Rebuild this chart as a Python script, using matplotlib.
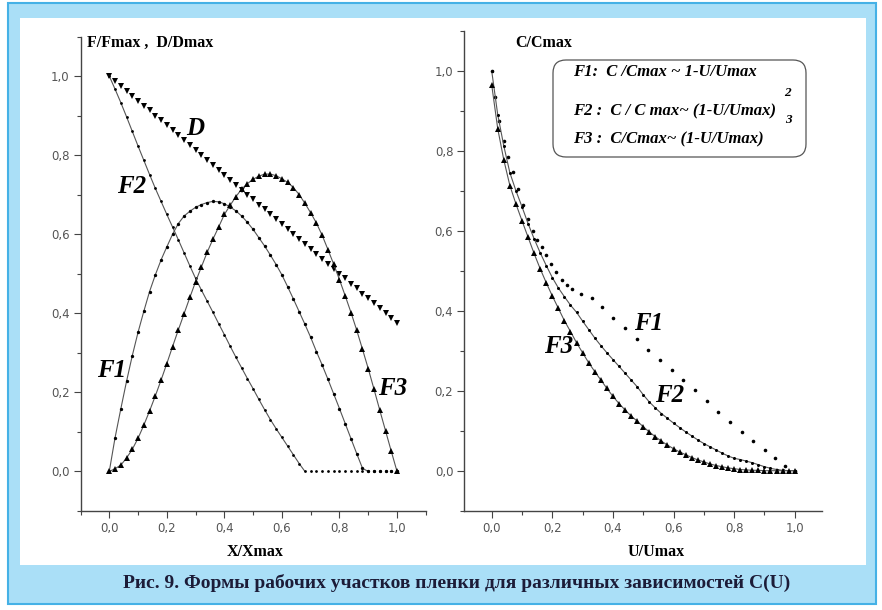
import numpy as np
import matplotlib.pyplot as plt
from matplotlib.patches import Rectangle, FancyBboxPatch
from matplotlib.ticker import FixedLocator, MultipleLocator, FuncFormatter

# ---- data ----
x_left = [0.00, 0.02, 0.04, 0.06, 0.08, 0.10, 0.12, 0.14, 0.16, 0.18,
          0.20, 0.22, 0.24, 0.26, 0.28, 0.30, 0.32, 0.34, 0.36, 0.38,
          0.40, 0.42, 0.44, 0.46, 0.48, 0.50, 0.52, 0.54, 0.56, 0.58,
          0.60, 0.62, 0.64, 0.66, 0.68, 0.70, 0.72, 0.74, 0.76, 0.78,
          0.80, 0.82, 0.84, 0.86, 0.88, 0.90, 0.92, 0.94, 0.96, 0.98, 1.00]

d_left = [1.000, 0.988, 0.975, 0.963, 0.950, 0.938, 0.925, 0.913, 0.900, 0.888,
          0.875, 0.863, 0.850, 0.838, 0.825, 0.813, 0.800, 0.788, 0.775, 0.763,
          0.750, 0.738, 0.725, 0.713, 0.700, 0.688, 0.675, 0.663, 0.650, 0.638,
          0.625, 0.613, 0.600, 0.588, 0.575, 0.563, 0.550, 0.538, 0.525, 0.513,
          0.500, 0.488, 0.475, 0.463, 0.450, 0.438, 0.425, 0.413, 0.400, 0.388, 0.375]

f1_left = [0.000, 0.085, 0.158, 0.228, 0.293, 0.352, 0.405, 0.455, 0.497, 0.535,
           0.568, 0.600, 0.627, 0.646, 0.658, 0.668, 0.675, 0.680, 0.683, 0.682,
           0.677, 0.669, 0.659, 0.646, 0.630, 0.612, 0.591, 0.570, 0.547, 0.523,
           0.497, 0.467, 0.436, 0.404, 0.372, 0.339, 0.303, 0.269, 0.233, 0.196,
           0.159, 0.121, 0.083, 0.045, 0.008, 0.000, 0.000, 0.000, 0.000, 0.000, 0.000]

f2_left = [1.000, 0.967, 0.933, 0.897, 0.860, 0.823, 0.787, 0.751, 0.716, 0.683,
           0.650, 0.618, 0.586, 0.553, 0.520, 0.488, 0.459, 0.431, 0.403, 0.374,
           0.346, 0.317, 0.289, 0.262, 0.235, 0.209, 0.182, 0.156, 0.131, 0.108,
           0.086, 0.064, 0.042, 0.020, 0.000, 0.000, 0.000, 0.000, 0.000, 0.000,
           0.000, 0.000, 0.000, 0.000, 0.000, 0.000, 0.000, 0.000, 0.000, 0.000, 0.000]

f3_left = [0.000, 0.007, 0.016, 0.034, 0.056, 0.084, 0.117, 0.153, 0.191, 0.231,
           0.273, 0.316, 0.358, 0.399, 0.440, 0.480, 0.517, 0.554, 0.587, 0.618,
           0.650, 0.673, 0.695, 0.714, 0.728, 0.739, 0.747, 0.752, 0.752, 0.748,
           0.740, 0.731, 0.718, 0.700, 0.678, 0.654, 0.628, 0.597, 0.561, 0.524,
           0.485, 0.444, 0.402, 0.357, 0.309, 0.260, 0.208, 0.155, 0.103, 0.051, 0.000]

x_right = x_left

f1r_x = [0.0, 0.012, 0.025, 0.04, 0.055, 0.07, 0.087, 0.104, 0.12, 0.135,
         0.15, 0.165, 0.18, 0.195, 0.212, 0.231, 0.248, 0.264, 0.295, 0.33,
         0.365, 0.401, 0.44, 0.478, 0.517, 0.555, 0.596, 0.632, 0.671, 0.71,
         0.748, 0.786, 0.825, 0.863, 0.902, 0.935, 0.968, 1.0]
f1r_y = [1.0, 0.935, 0.875, 0.825, 0.785, 0.748, 0.705, 0.665, 0.63, 0.6,
         0.578, 0.558, 0.538, 0.518, 0.497, 0.477, 0.465, 0.455, 0.443, 0.432,
         0.41, 0.381, 0.356, 0.3285, 0.302, 0.277, 0.252, 0.227, 0.202, 0.174,
         0.148, 0.123, 0.098, 0.074, 0.052, 0.031, 0.012, 0.0]

f2_right = [1.000, 0.890, 0.812, 0.745, 0.700, 0.660, 0.618, 0.580, 0.545, 0.513,
            0.483, 0.457, 0.435, 0.414, 0.396, 0.374, 0.353, 0.332, 0.313, 0.295,
            0.278, 0.261, 0.244, 0.227, 0.210, 0.190, 0.172, 0.157, 0.143, 0.131,
            0.119, 0.108, 0.097, 0.087, 0.077, 0.068, 0.060, 0.052, 0.044, 0.037,
            0.031, 0.028, 0.024, 0.020, 0.015, 0.010, 0.006, 0.003, 0.001, 0.000, 0.000]

f3_right = [0.965, 0.855, 0.777, 0.713, 0.667, 0.625, 0.584, 0.543, 0.505, 0.470,
            0.437, 0.406, 0.375, 0.348, 0.320, 0.295, 0.270, 0.248, 0.227, 0.206,
            0.186, 0.168, 0.152, 0.137, 0.124, 0.110, 0.097, 0.085, 0.074, 0.064,
            0.055, 0.047, 0.040, 0.033, 0.027, 0.022, 0.017, 0.013, 0.010, 0.007,
            0.005, 0.003, 0.002, 0.001, 0.001, 0.000, 0.000, 0.000, 0.000, 0.000, 0.000]

major_ticks = [0.0, 0.2, 0.4, 0.6, 0.8, 1.0]

W, H = 882, 610
SERIF = 'Liberation Serif'
LINE_C = '#555555'


def px(x, y):
    # image pixel (top-left origin) -> inches for fig.dpi_scale_trans
    return x / 100.0, (H - y) / 100.0


def style_axes(ax, xlim, ylim):
    ax.set_xlim(*xlim)
    ax.set_ylim(*ylim)
    for s in ('top', 'right'):
        ax.spines[s].set_visible(False)
    for s in ('left', 'bottom'):
        ax.spines[s].set_color('#444444')
        ax.spines[s].set_linewidth(1.0)
    fmt = FuncFormatter(lambda v, p: '{:.1f}'.format(round(v, 1) + 0.0).replace('.', ','))
    for axis in (ax.xaxis, ax.yaxis):
        axis.set_major_locator(FixedLocator(major_ticks))
        axis.set_minor_locator(MultipleLocator(0.1))
        axis.set_major_formatter(fmt)
    ax.tick_params(which='major', direction='out', length=5, width=0.8,
                   color='#444444', labelsize=8.5, labelcolor='#555555', pad=3)
    ax.tick_params(which='minor', direction='out', length=3, width=0.8, color='#444444')


def tail_end(x, y):
    # last point of the curve before the flat zero tail
    x = np.asarray(x)
    y = np.asarray(y)
    idx = np.nonzero((y == 0) & (x > 0.05))[0]
    return idx[0] + 1 if len(idx) else len(y)


fig = plt.figure(figsize=(W / 100, H / 100), dpi=100)
fig.patch.set_facecolor('white')

# frame
x0, y0 = px(8, 604)
fig.add_artist(Rectangle((x0, y0), 8.68, 6.01, transform=fig.dpi_scale_trans,
                         facecolor='#aadff7', edgecolor='#45b1e6', lw=1.5, zorder=-2))
x0, y0 = px(20, 565)
fig.add_artist(Rectangle((x0, y0), 8.46, 5.47, transform=fig.dpi_scale_trans,
                         facecolor='white', edgecolor='none', zorder=-1))

ax1 = fig.add_axes([80.5 / W, (H - 511) / H, 345.3 / W, 474.5 / H])
ax2 = fig.add_axes([464.4 / W, (H - 510.7) / H, 357.6 / W, 480 / H])
for ax in (ax1, ax2):
    ax.set_facecolor('none')

# ---- left panel ----
style_axes(ax1, (-0.1, 1.1), (-0.1, 1.1))
ax1.plot(x_left, d_left, linestyle='none', marker='v', ms=4.8, color='black', mew=0)

e = tail_end(x_left, f1_left)
ax1.plot(x_left[:e], f1_left[:e], color=LINE_C, lw=0.8)
ax1.plot(x_left, f1_left, linestyle='none', marker='o', ms=2.4, color='black', mew=0)

e = tail_end(x_left, f2_left)
ax1.plot(x_left[:e], f2_left[:e], color=LINE_C, lw=0.8)
ax1.plot(x_left, f2_left, linestyle='none', marker='o', ms=2.0, color='black', mew=0)

ax1.plot(x_left, f3_left, color=LINE_C, lw=0.8)
ax1.plot(x_left, f3_left, linestyle='none', marker='^', ms=4.8, color='black', mew=0)

lab = dict(family=SERIF, weight='bold', style='italic', fontsize=18,
           ha='center', va='center', color='black')
ax1.text(0.30, 0.868, 'D', **lab)
ax1.text(0.078, 0.72, 'F2', **lab)
ax1.text(0.009, 0.256, 'F1', **lab)
ax1.text(0.985, 0.209, 'F3', **lab)

# ---- right panel ----
style_axes(ax2, (-0.09, 1.09), (-0.1, 1.1))
ax2.plot(f1r_x, f1r_y, linestyle='none', marker='o', ms=2.6, color='black', mew=0)
ax2.plot(x_right, f2_right, color=LINE_C, lw=0.8)
ax2.plot(x_right, f2_right, linestyle='none', marker='o', ms=2.2, color='black', mew=0)
ax2.plot(x_right, f3_right, color=LINE_C, lw=0.8)
ax2.plot(x_right, f3_right, linestyle='none', marker='^', ms=4.8, color='black', mew=0)

ax2.text(0.517, 0.368, 'F1', **lab)
ax2.text(0.588, 0.189, 'F2', **lab)
ax2.text(0.22, 0.31, 'F3', **lab)

# legend box
bx, by = px(553, 157)
fig.add_artist(FancyBboxPatch((bx, by), 2.53, 0.97, transform=fig.dpi_scale_trans,
                              boxstyle='round,pad=0,rounding_size=0.13',
                              facecolor='white', edgecolor='#555555', lw=0.9))
leg = dict(family=SERIF, weight='bold', style='italic', fontsize=12,
           ha='left', va='center', color='black', transform=fig.dpi_scale_trans)
fig.text(*px(573, 72), 'F1:  C /Cmax ~ 1-U/Umax', **leg)
fig.text(*px(573, 111.5), 'F2 :  C / C max~ (1-U/Umax)', **leg)
fig.text(*px(573, 139.5), 'F3 :  C/Cmax~ (1-U/Umax)', **leg)
sup = dict(leg, fontsize=9.5, ha='center')
fig.text(*px(787, 93), '2', **sup)
fig.text(*px(788, 120), '3', **sup)

# axis titles
ttl = dict(family=SERIF, weight='bold', fontsize=11.5, color='black',
           va='center', transform=fig.dpi_scale_trans)
fig.text(*px(87, 43), 'F/Fmax ,  D/Dmax', ha='left', **ttl)
fig.text(*px(515, 43), 'C/Cmax', ha='left', **ttl)
fig.text(*px(255, 552), 'X/Xmax', ha='center', **ttl)
fig.text(*px(656, 552), 'U/Umax', ha='center', **ttl)

# caption
fig.text(*px(457, 583), 'Рис. 9. Формы рабочих участков пленки для различных зависимостей C(U)',
         family=SERIF, weight='bold', fontsize=14, color='#1c1c38',
         ha='center', va='center', transform=fig.dpi_scale_trans)

fig.savefig('out.png', dpi=100)
